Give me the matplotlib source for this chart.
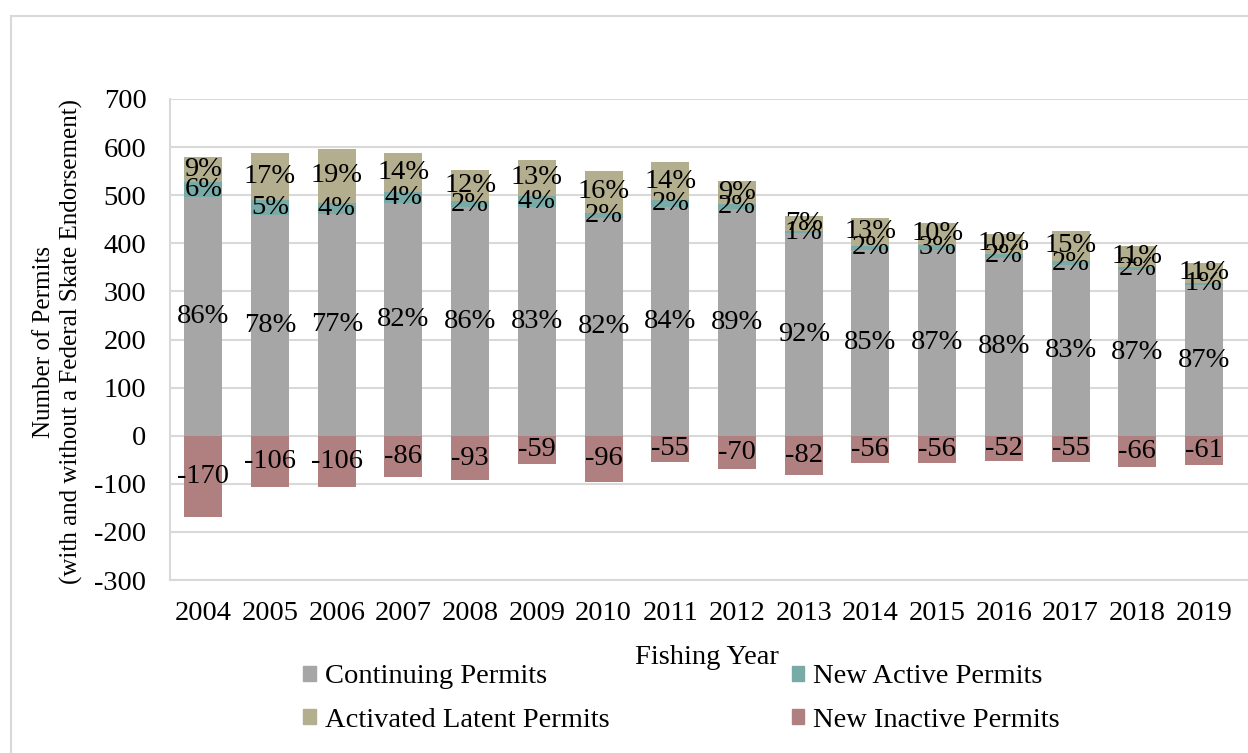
import matplotlib.pyplot as plt
import matplotlib.patches as mpatches
import numpy as np

plt.rcParams['font.family'] = ['Liberation Serif', 'DejaVu Serif']
plt.rcParams['axes.unicode_minus'] = False

years = ['2004', '2005', '2006', '2007', '2008', '2009', '2010', '2011',
         '2012', '2013', '2014', '2015', '2016', '2017', '2018', '2019']
continuing = [497, 459, 461, 483, 475, 476, 452, 476, 472, 421, 387, 386, 370, 355, 345, 314]
new_active = [30, 30, 23, 24, 12, 23, 12, 13, 10, 4, 8, 11, 8, 8, 6, 4]
latent = [52, 99, 113, 81, 66, 75, 87, 79, 48, 32, 58, 45, 42, 63, 43, 41]
new_inactive = [-170, -106, -106, -86, -93, -59, -96, -55, -70, -82, -56, -56, -52, -55, -66, -61]
# percentage labels as printed on the chart
cont_pct = [86, 78, 77, 82, 86, 83, 82, 84, 89, 92, 85, 87, 88, 83, 87, 87]
act_pct = [6, 5, 4, 4, 2, 4, 2, 2, 2, 1, 2, 3, 2, 2, 2, 1]
lat_pct = [9, 17, 19, 14, 12, 13, 16, 14, 9, 7, 13, 10, 10, 15, 11, 11]

c_cont = '#a6a6a6'
c_act = '#78aba7'
c_lat = '#b3ae8e'
c_inact = '#b07f7f'

fig = plt.figure(figsize=(12.48, 7.53), dpi=100)
fig.patches.append(mpatches.Rectangle((11/1248, -0.1), 1.2, (745-8)/753 + 0.1,
                                      transform=fig.transFigure, fill=False,
                                      edgecolor='#d9d9d9', lw=1.5))
ax = fig.add_axes([170/1248, (753-580)/753, (1248-170)/1248, (580-99)/753])

x = np.arange(len(years))
cont = np.array(continuing)
act = np.array(new_active)
lat = np.array(latent)
w = 0.57
ax.bar(x, cont, w, color=c_cont, zorder=2)
ax.bar(x, act, w, bottom=cont, color=c_act, zorder=2)
ax.bar(x, lat, w, bottom=cont + act, color=c_lat, zorder=2)
ax.bar(x, new_inactive, w, color=c_inact, zorder=2)

fs = 20.5
for i in range(len(years)):
    ax.text(x[i], cont[i] / 2, f'{cont_pct[i]}%', ha='center', va='center', fontsize=fs, zorder=3)
    ax.text(x[i], cont[i] + act[i] / 2, f'{act_pct[i]}%', ha='center', va='center', fontsize=fs, zorder=3)
    ax.text(x[i], cont[i] + act[i] + lat[i] / 2, f'{lat_pct[i]}%', ha='center', va='center', fontsize=fs, zorder=3)
    ax.text(x[i], new_inactive[i] / 2, f'{new_inactive[i]}', ha='center', va='center', fontsize=fs, zorder=3)

ax.set_ylim(-300, 700)
ax.set_yticks(range(-300, 701, 100))
ax.set_xlim(-0.5, 15.66)
ax.set_xticks(x)
ax.set_xticklabels(years)
ax.tick_params(axis='both', length=0, labelsize=fs)
ax.tick_params(axis='y', pad=17)
ax.tick_params(axis='x', pad=15)
ax.grid(axis='y', color='#d9d9d9', lw=1.5, zorder=0)
for s in ['top', 'right']:
    ax.spines[s].set_visible(False)
ax.spines['left'].set_color('#d9d9d9')
ax.spines['left'].set_linewidth(1.5)
ax.spines['bottom'].set_color('#d9d9d9')
ax.spines['bottom'].set_linewidth(1.5)

fig.text(58/1248, 1 - 342/753, 'Number of Permits\n(with and without a Federal Skate Endorsement)',
         rotation=90, ha='center', va='center', fontsize=18, linespacing=1.25)
fig.text(707/1248, 1 - 657/753, 'Fishing Year', ha='center', va='center', fontsize=fs)

handles = [mpatches.Patch(color=c_cont), mpatches.Patch(color=c_lat),
           mpatches.Patch(color=c_act), mpatches.Patch(color=c_inact)]
labels = ['Continuing Permits', 'Activated Latent Permits', 'New Active Permits', 'New Inactive Permits']
fig.legend(handles, labels, ncol=2, loc='upper left', bbox_to_anchor=(292/1248, 1 - 653/753),
           frameon=False, fontsize=fs, handlelength=0.45, handleheight=0.45, handletextpad=0.3,
           columnspacing=6.4, labelspacing=0.65, borderaxespad=0)

fig.savefig('out.png', dpi=100)
